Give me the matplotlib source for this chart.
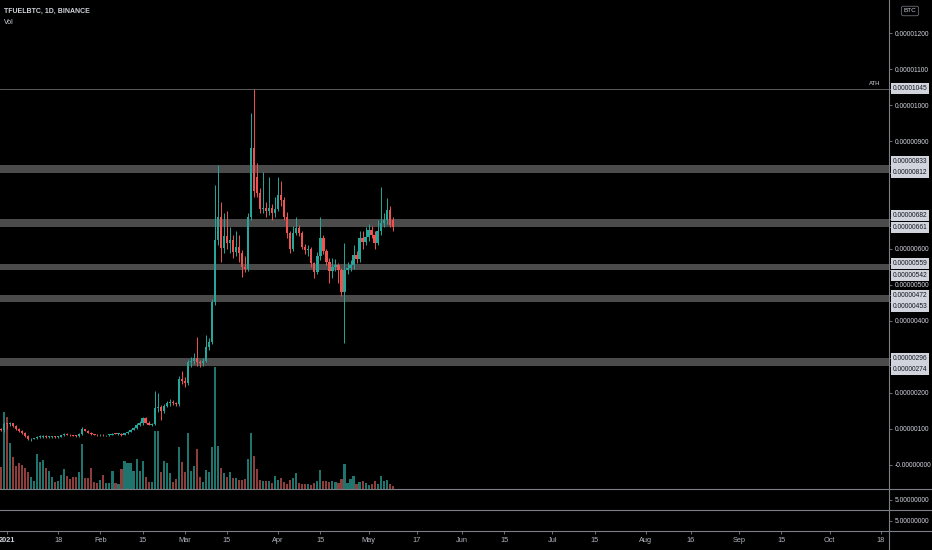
import numpy as np
import pandas as pd
import matplotlib
matplotlib.use('Agg')
import matplotlib.pyplot as plt
import matplotlib.dates as mdates
from matplotlib.lines import Line2D

plt.rcParams['font.family'] = ['Liberation Sans Narrow', 'Liberation Sans', 'DejaVu Sans']

# Dados diarios TFUEL/BTC (precos em satoshi), de 2020-12-30 ate 2021-05-09
inicio = '2020-12-30'
opens = [100, 97, 115, 113, 116, 108, 100, 95, 88, 80,
         71, 73, 74, 77, 79, 80, 77, 78, 79, 78,
         79, 82, 86, 84, 82, 81, 80, 86, 100, 95,
         90, 85, 83, 82, 84, 82, 83, 84, 87, 86,
         87, 83, 88, 93, 98, 103, 112, 117, 130, 118,
         112, 114, 157, 162, 150, 165, 172, 176, 172, 170,
         240, 232, 228, 285, 290, 298, 285, 282, 290, 328,
         342, 453, 625, 689, 603, 636, 617, 625, 592, 605,
         589, 550, 545, 689, 881, 800, 756, 710, 715, 705,
         714, 700, 712, 750, 736, 690, 645, 600, 645, 658,
         645, 605, 597, 600, 560, 535, 580, 630, 595, 565,
         540, 550, 555, 542, 481, 542, 548, 556, 583, 572,
         631, 620, 633, 653, 640, 617, 650, 672, 681, 708,
         681]
highs = [104, 120, 118, 119, 118, 110, 103, 97, 91, 83,
         76, 76, 80, 82, 84, 82, 80, 81, 80, 81,
         84, 88, 88, 86, 84, 83, 88, 106, 101, 97,
         92, 87, 85, 85, 86, 84, 85, 88, 89, 88,
         90, 89, 94, 99, 105, 116, 122, 132, 133, 121,
         117, 205, 200, 168, 170, 178, 182, 180, 176, 248,
         262, 245, 292, 300, 310, 355, 292, 298, 361, 352,
         462, 778, 833, 731, 700, 705, 660, 640, 650, 640,
         596, 580, 700, 978, 1045, 839, 770, 815, 730, 800,
         725, 745, 800, 790, 745, 703, 650, 665, 690, 668,
         650, 615, 612, 605, 565, 592, 690, 640, 600, 575,
         575, 572, 560, 546, 617, 565, 570, 610, 595, 650,
         650, 660, 670, 665, 650, 680, 772, 700, 742, 720,
         690]
lows = [94, 93, 100, 108, 106, 98, 93, 86, 78, 69,
        68, 71, 72, 74, 76, 75, 75, 76, 76, 76,
        77, 80, 83, 81, 80, 79, 79, 84, 94, 89,
        82, 82, 80, 81, 81, 80, 81, 83, 85, 84,
        81, 82, 86, 91, 96, 101, 109, 112, 116, 110,
        109, 110, 148, 125, 145, 160, 165, 168, 165, 165,
        225, 218, 222, 272, 280, 276, 272, 276, 286, 320,
        335, 445, 610, 564, 590, 600, 590, 575, 580, 565,
        522, 535, 540, 680, 745, 745, 700, 700, 690, 695,
        680, 690, 705, 720, 680, 630, 590, 595, 640, 635,
        600, 585, 580, 550, 520, 530, 570, 585, 555, 505,
        520, 540, 505, 470, 339, 530, 540, 545, 560, 565,
        600, 610, 622, 630, 600, 610, 640, 660, 670, 660,
        650]
closes = [97, 115, 113, 116, 108, 100, 95, 88, 80, 71,
          73, 74, 77, 79, 80, 77, 78, 79, 78, 79,
          82, 86, 84, 82, 81, 80, 86, 100, 95, 90,
          85, 83, 82, 84, 82, 83, 84, 87, 86, 87,
          83, 88, 93, 98, 103, 112, 117, 130, 118, 112,
          114, 157, 162, 150, 165, 172, 176, 172, 170, 240,
          232, 228, 285, 290, 298, 285, 282, 290, 328, 342,
          453, 625, 689, 603, 636, 617, 625, 592, 605, 589,
          550, 545, 689, 881, 760, 756, 710, 715, 705, 714,
          700, 712, 750, 736, 690, 645, 600, 645, 658, 645,
          605, 597, 600, 560, 535, 580, 630, 595, 565, 540,
          550, 555, 542, 481, 542, 548, 556, 583, 572, 631,
          620, 633, 653, 640, 617, 650, 672, 681, 708, 667,
          660]
# volume (milhoes de TFUEL, aproximado)
volumes = [22, 77, 72, 46, 32, 23, 26, 24, 21, 17,
           12, 8, 35, 27, 29, 21, 18, 12, 7, 8,
           14, 20, 13, 10, 12, 12, 17, 45, 11, 11,
           21, 7, 6, 9, 14, 6, 6, 18, 6, 5,
           20, 28, 26, 26, 18, 30, 18, 28, 12, 7,
           7, 58, 58, 17, 28, 26, 16, 7, 10, 42,
           27, 17, 56, 18, 23, 40, 12, 7, 19, 17,
           42, 122, 43, 21, 16, 12, 17, 11, 11, 9,
           9, 10, 30, 56, 33, 20, 9, 8, 8, 8,
           6, 13, 9, 11, 7, 5, 9, 11, 16, 6,
           5, 5, 5, 4, 6, 8, 19, 8, 8, 7,
           8, 7, 6, 10, 25, 6, 10, 13, 5, 7,
           8, 6, 4, 5, 8, 5, 13, 8, 9, 5,
           3]

# zonas de suporte/resistencia e ATH
zonas = [(812, 833), (661, 682), (542, 559), (453, 472), (274, 296)]
ath = 1045
precos_ticks = [0, 100, 200, 400, 500, 600, 900, 1000, 1100, 1200]
datas_ticks = ['2021-01-01', '2021-01-18', '2021-02-01', '2021-02-15', '2021-03-01',
               '2021-03-15', '2021-04-01', '2021-04-15', '2021-05-01', '2021-05-17',
               '2021-06-01', '2021-06-15', '2021-07-01', '2021-07-15', '2021-08-01',
               '2021-08-16', '2021-09-01', '2021-09-15', '2021-10-01', '2021-10-18']
datas_labels = ['2021', '18', 'Feb', '15', 'Mar', '15', 'Apr', '15', 'May', '17',
                'Jun', '15', 'Jul', '15', 'Aug', '16', 'Sep', '15', 'Oct', '18']

# cores
verde, vermelho = '#26a69a', '#ef5350'
vol_verde, vol_vermelho = '#1f756d', '#8e3d3b'
linha = '#7c7f88'
texto = '#d1d4dc'
fs = 4.8

datas = pd.date_range(inicio, periods=len(closes), freq='D')
x = mdates.date2num(datas)
o, h, l, c = map(np.array, (opens, highs, lows, closes))
subiu = c >= o

W, H = 932, 550
fig = plt.figure(figsize=(W / 100, H / 100), dpi=100, facecolor='black')
ax = fig.add_axes([0, 61 / H, 889 / W, 489 / H])
p2 = fig.add_axes([0, 40 / H, 889 / W, 21 / H], sharex=ax)
p3 = fig.add_axes([0, 19 / H, 889 / W, 21 / H], sharex=ax)
for a in (ax, p2, p3):
    a.set_facecolor('black')
    for s in a.spines.values():
        s.set_visible(False)

# volume em eixo gemeo (atras dos candles)
vax = ax.twinx()
vax.set_zorder(ax.get_zorder() - 1)
ax.patch.set_visible(False)
vax.set_facecolor('black')
vax.bar(x, volumes, width=0.7, color=np.where(subiu, vol_verde, vol_vermelho), linewidth=0)
vax.set_ylim(0, max(volumes) * 4.0)
vax.axis('off')

# zonas e ATH
for lo, hi in zonas:
    ax.axhspan(lo, hi, color='#4b4b4b', zorder=1, lw=0)
ax.axhline(ath, color='#5a5a5a', lw=0.7, zorder=1)

# candles
cores = np.where(subiu, verde, vermelho)
ax.vlines(x, l, h, colors=cores, lw=0.7, zorder=3)
corpo = np.maximum(np.abs(c - o), 2.5)
ax.bar(x, corpo, bottom=np.minimum(o, c), width=0.76, color=cores, linewidth=0, zorder=4)

x0 = mdates.date2num(pd.Timestamp('2021-01-01'))
ax.set_xlim(x0 - 2.32, x0 + 292.7)
ax.set_ylim(-66.7, 1291.7)

# eixo de precos a direita
ax.set_yticks(precos_ticks)
ax.set_yticklabels(['-0.00000000' if v == 0 else f'{v * 1e-8:.8f}' for v in precos_ticks])
ax.tick_params(axis='y', left=False, labelleft=False, right=True, labelright=True,
               length=2.5, width=0.6, color=linha, labelsize=fs, labelcolor=texto, pad=1.5)
ax.tick_params(axis='x', bottom=False, labelbottom=False)

ppu = 489 / (1291.7 + 66.7)
trans = ax.get_yaxis_transform()


def etiqueta(v, y):
    ax.plot([1, 1 + 3 / 889], [v, v], transform=trans, clip_on=False, color=linha, lw=0.6)
    ax.annotate(f'{v * 1e-8:.8f}', xy=(1, y), xycoords=trans, xytext=(2.6, 0),
                textcoords='offset points', ha='left', va='center', fontsize=fs,
                color='#131722', annotation_clip=False, zorder=10,
                bbox=dict(boxstyle='square,pad=0.3', fc='#d1d4dc', ec='none'))


# etiquetas das zonas: nas zonas altas sobe a de cima, nas baixas desce a de baixo
for lo, hi in zonas:
    falta = max(0, 11.5 - (hi - lo) * ppu) / ppu
    if lo > 600:
        etiqueta(hi, hi + falta)
        etiqueta(lo, lo)
    else:
        etiqueta(hi, hi)
        etiqueta(lo, lo - falta)
etiqueta(ath, ath)
ax.text(880 / 889, ath + 3 / ppu, 'ATH', transform=trans, ha='right', va='bottom',
        fontsize=4.3, color=texto)

# paineis inferiores
for a in (p2, p3):
    a.set_ylim(0, 1)
    a.set_yticks([0.5])
    a.set_yticklabels(['5.00000000'])
    a.tick_params(axis='y', left=False, labelleft=False, right=True, labelright=True,
                  length=2.5, width=0.6, color=linha, labelsize=fs, labelcolor=texto, pad=1.5)
p2.tick_params(axis='x', bottom=False, labelbottom=False)
p3.set_xticks(mdates.date2num(pd.to_datetime(datas_ticks)))
p3.set_xticklabels(datas_labels)
p3.tick_params(axis='x', length=2.5, width=0.6, color=linha, labelsize=5.3,
               labelcolor='#b2b5be', pad=2)
p3.get_xticklabels()[0].set_fontweight('bold')
p3.get_xticklabels()[0].set_color(texto)

# linhas separadoras
for yy in (489, 510, 531):
    fig.add_artist(Line2D([0, 1], [1 - yy / H] * 2, transform=fig.transFigure, color=linha, lw=0.8))
fig.add_artist(Line2D([889 / W] * 2, [0, 1], transform=fig.transFigure, color=linha, lw=0.8))

# textos do topo
fig.text(4 / W, 1 - 11 / H, 'TFUELBTC, 1D, BINANCE', va='center', ha='left',
         fontsize=5.0, color=texto, fontweight='bold')
fig.text(4 / W, 1 - 22 / H, 'Vol', va='center', ha='left', fontsize=5.0, color=texto)
fig.text(910 / W, 1 - 11 / H, 'BTC', va='center', ha='center', fontsize=4.6, color=texto,
         bbox=dict(boxstyle='round,pad=0.35,rounding_size=0.3', fc='black', ec='#6a6d78', lw=0.6))

plt.savefig('out.png', dpi=100, facecolor='black')
